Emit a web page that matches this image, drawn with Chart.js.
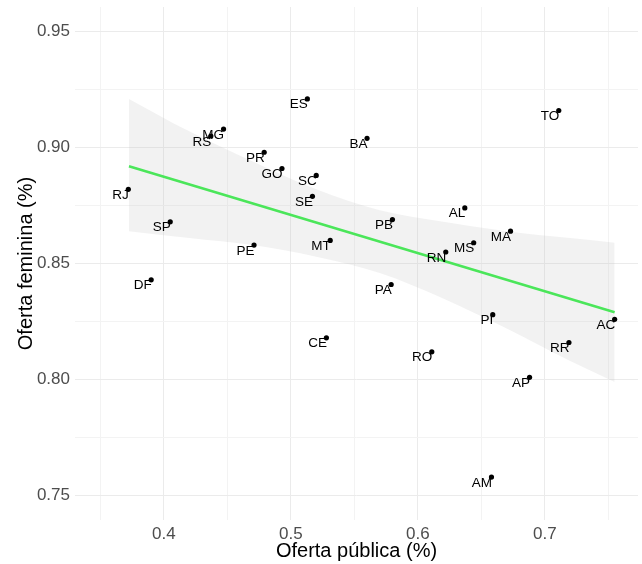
<!DOCTYPE html>
<html>
<head>
<meta charset="utf-8">
<script src="https://cdn.jsdelivr.net/npm/chart.js@4.4.1/dist/chart.umd.min.js"></script>
<style>
  html, body { margin: 0; padding: 0; background: #fff; }
  canvas { display: block; }
</style>
</head>
<body>
<canvas id="myChart" width="642" height="564"></canvas>
<script>
// states and their values
const states = ['ES','MG','RS','BA','PR','GO','SC','RJ','SE','SP','PE','MT','DF','TO',
                'AL','PB','MA','MS','RN','PA','CE','PI','AC','RR','RO','AP','AM'];
const publica = [0.513, 0.447, 0.437, 0.560, 0.479, 0.493, 0.520, 0.372, 0.517, 0.405, 0.471, 0.531, 0.390, 0.711,
                 0.637, 0.580, 0.673, 0.644, 0.622, 0.579, 0.528, 0.659, 0.755, 0.719, 0.611, 0.688, 0.658];
const feminina = [0.921, 0.908, 0.905, 0.904, 0.898, 0.891, 0.888, 0.882, 0.879, 0.868, 0.858, 0.860, 0.843, 0.916,
                  0.874, 0.869, 0.864, 0.859, 0.855, 0.841, 0.818, 0.828, 0.826, 0.816, 0.812, 0.801, 0.758];

// fitted line and confidence band
const fitX = [0.3725, 0.755];
const fitY = [0.892, 0.829];
const bandX = [0.3725, 0.42, 0.47, 0.52, 0.57, 0.62, 0.67, 0.72, 0.755];
const bandUpper = [0.921, 0.907, 0.894, 0.882, 0.873, 0.868, 0.864, 0.861, 0.859];
const bandLower = [0.864, 0.861, 0.858, 0.853, 0.846, 0.835, 0.822, 0.808, 0.799];

// tick / grid values
const xTicks = [0.35, 0.4, 0.45, 0.5, 0.55, 0.6, 0.65, 0.7, 0.75];
const yTicks = [0.75, 0.775, 0.8, 0.825, 0.85, 0.875, 0.9, 0.925, 0.95];

const FONT = '"Liberation Sans", Arial, Helvetica, sans-serif';

const isMajor = (v, step) => Math.abs(v / step - Math.round(v / step)) < 1e-6;

// draw state names next to points
const stateLabels = {
    id: 'stateLabels',
    afterDatasetsDraw(chart) {
        const { ctx, scales: { x, y } } = chart;
        ctx.save();
        ctx.font = '13.5px ' + FONT;
        ctx.fillStyle = '#000';
        ctx.textAlign = 'right';
        ctx.textBaseline = 'alphabetic';
        states.forEach((s, i) => {
            ctx.fillText(s, x.getPixelForValue(publica[i]) + 0.5, y.getPixelForValue(feminina[i]) + 9.5);
        });
        ctx.restore();
    }
};

// fixed axis sizes so the panel sits where it does in the picture
const fixAxis = (s, size) => {
    if (s.isHorizontal()) s.height = size; else s.width = size;
    s.paddingTop = 0; s.paddingBottom = 0; s.paddingLeft = 0; s.paddingRight = 0;
};

const ctx = document.getElementById('myChart').getContext('2d');

const data = {
    datasets: [
        {
            type: 'scatter',
            data: states.map((s, i) => ({ x: publica[i], y: feminina[i] })),
            backgroundColor: '#000',
            borderWidth: 0,
            pointRadius: 2.6,
            order: 1
        },
        {
            type: 'line',
            data: fitX.map((v, i) => ({ x: v, y: fitY[i] })),
            borderColor: '#4be65a',
            borderWidth: 2.6,
            pointRadius: 0,
            fill: false,
            order: 2
        },
        {
            type: 'line',
            data: bandX.map((v, i) => ({ x: v, y: bandUpper[i] })),
            borderWidth: 0,
            borderColor: 'rgba(0,0,0,0)',
            backgroundColor: 'rgba(190,190,190,0.2)',
            pointRadius: 0,
            cubicInterpolationMode: 'monotone',
            fill: '+1',
            order: 3
        },
        {
            type: 'line',
            data: bandX.map((v, i) => ({ x: v, y: bandLower[i] })),
            borderWidth: 0,
            borderColor: 'rgba(0,0,0,0)',
            pointRadius: 0,
            cubicInterpolationMode: 'monotone',
            fill: false,
            order: 4
        }
    ]
};

const config = {
    type: 'scatter',
    data: data,
    options: {
        responsive: false,
        animation: false,
        layout: { padding: { top: 7, right: 2, left: 0, bottom: 0 } },
        plugins: {
            legend: { display: false },
            tooltip: { enabled: false }
        },
        scales: {
            x: {
                type: 'linear',
                min: 0.33,
                max: 0.7734,
                afterBuildTicks: s => { s.ticks = xTicks.map(v => ({ value: v })); },
                afterFit: s => fixAxis(s, 44),
                border: { display: false },
                grid: {
                    drawTicks: false,
                    color: c => isMajor(c.tick.value, 0.1) ? '#ebebeb' : '#f3f3f3',
                    lineWidth: 1
                },
                ticks: {
                    autoSkip: false,
                    maxRotation: 0,
                    padding: 4,
                    color: '#4d4d4d',
                    font: { family: FONT, size: 17 },
                    callback: v => isMajor(v, 0.1) ? v.toFixed(1) : ''
                },
                title: {
                    display: true,
                    text: 'Oferta pública (%)',
                    color: '#000',
                    font: { family: FONT, size: 20 },
                    padding: { top: 0, bottom: 1 }
                }
            },
            y: {
                type: 'linear',
                min: 0.7395,
                max: 0.9606,
                afterBuildTicks: s => { s.ticks = yTicks.map(v => ({ value: v })); },
                afterFit: s => fixAxis(s, 75),
                border: { display: false },
                grid: {
                    drawTicks: false,
                    color: c => isMajor(c.tick.value, 0.05) ? '#ebebeb' : '#f3f3f3',
                    lineWidth: 1
                },
                ticks: {
                    autoSkip: false,
                    padding: 5,
                    color: '#4d4d4d',
                    font: { family: FONT, size: 17 },
                    callback: v => isMajor(v, 0.05) ? v.toFixed(2) : ''
                },
                title: {
                    display: true,
                    text: 'Oferta feminina (%)',
                    color: '#000',
                    font: { family: FONT, size: 20 },
                    padding: { top: 14, bottom: 0 }
                }
            }
        }
    },
    plugins: [stateLabels]
};

const myChart = new Chart(ctx, config);
</script>
</body>
</html>
